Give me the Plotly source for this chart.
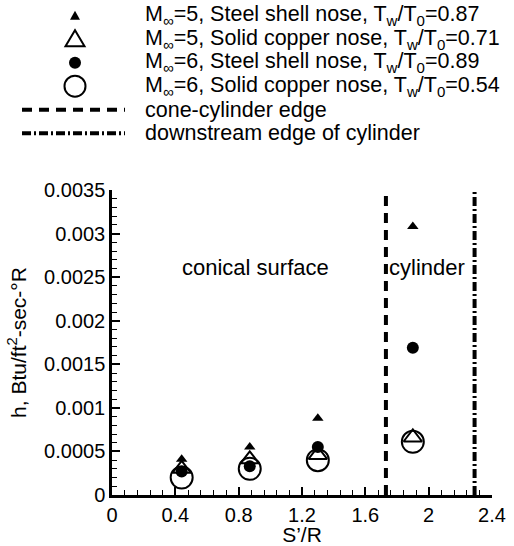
import plotly.graph_objects as go

# Surface positions S'/R of the measurement stations
s_over_r = [0.44, 0.87, 1.3, 1.9]

# Heat-transfer coefficient h, Btu/ft^2-sec-°R
h_m5_steel = [0.00041, 0.00055, 0.00088, 0.00308]
h_m5_copper = [0.00030, 0.00041, 0.00046, 0.00066]
h_m6_steel = [0.00027, 0.00033, 0.00055, 0.00169]
h_m6_copper = [0.00020, 0.00030, 0.00040, 0.00061]

# Geometry edges
cone_cylinder_edge = 1.73
cylinder_downstream_edge = 2.29
h_span = [0.0, 0.0035]

x_ticks = [0, 0.4, 0.8, 1.2, 1.6, 2.0, 2.4]
x_tick_labels = ["0", "0.4", "0.8", "1.2", "1.6", "2", "2.4"]
y_ticks = [0, 0.0005, 0.001, 0.0015, 0.002, 0.0025, 0.003, 0.0035]
y_tick_labels = ["0", "0.0005", "0.001", "0.0015", "0.002", "0.0025", "0.003", "0.0035"]

series_labels = [
    "M<sub>∞</sub>=5, Steel shell nose, T<sub>w</sub>/T<sub>0</sub>=0.87",
    "M<sub>∞</sub>=5, Solid copper nose, T<sub>w</sub>/T<sub>0</sub>=0.71",
    "M<sub>∞</sub>=6, Steel shell nose, T<sub>w</sub>/T<sub>0</sub>=0.89",
    "M<sub>∞</sub>=6, Solid copper nose, T<sub>w</sub>/T<sub>0</sub>=0.54",
    "cone-cylinder edge",
    "downstream edge of cylinder",
]

FONT = "Liberation Sans, Arial, Helvetica, sans-serif"
TICK_SIZE = 20
W, H = 514, 546
M_L, M_R, M_T, M_B = 112, 22, 190, 51
PW, PH = W - M_L - M_R, H - M_T - M_B


def px_to_paper(px, py):
    """Convert page pixel coordinates to paper coordinates of the plot area."""
    return (px - M_L) / PW, (H - M_B - py) / PH


fig = go.Figure()

DASH_EDGE = "10px,7px"
DASH_DOWNSTREAM = "9px,3px,2px,3px"

fig.add_trace(go.Scatter(
    x=s_over_r, y=h_m5_steel, mode="markers", name=series_labels[0],
    marker=dict(symbol="triangle-up", size=10, color="black"),
))
fig.add_trace(go.Scatter(
    x=s_over_r, y=h_m5_copper, mode="markers", name=series_labels[1],
    marker=dict(symbol="triangle-up-open", size=16, color="black",
                line=dict(width=2, color="black")),
))
fig.add_trace(go.Scatter(
    x=s_over_r, y=h_m6_steel, mode="markers", name=series_labels[2],
    marker=dict(symbol="circle", size=12, color="black"),
))
fig.add_trace(go.Scatter(
    x=s_over_r, y=h_m6_copper, mode="markers", name=series_labels[3],
    marker=dict(symbol="circle-open", size=22, color="black",
                line=dict(width=2, color="black")),
))
fig.add_trace(go.Scatter(
    x=[cone_cylinder_edge, cone_cylinder_edge], y=h_span, mode="lines",
    name=series_labels[4], line=dict(color="black", width=4, dash=DASH_EDGE),
))
fig.add_trace(go.Scatter(
    x=[cylinder_downstream_edge, cylinder_downstream_edge], y=h_span, mode="lines",
    name=series_labels[5], line=dict(color="black", width=4, dash=DASH_DOWNSTREAM),
))

# Key above the plot: glyph column, sample lines and labels
row_y = [15.7, 39.2, 62.7, 86.2, 109.7, 133.2]
glyph_x = 75
line_x0, line_x1 = 22, 125
text_x = 143

key_glyphs = [
    dict(kind="path", path="M -5,-4 L 5,-4 L 0,5 Z", fill="black", lw=0),
    dict(kind="path", path="M -9.5,-7 L 9.5,-7 L 0,9 Z", fill="rgba(0,0,0,0)", lw=2),
    dict(kind="circle", r=6, fill="black", lw=0),
    dict(kind="circle", r=10.5, fill="rgba(0,0,0,0)", lw=2),
]
for g, ry in zip(key_glyphs, row_y[:4]):
    ax, ay = px_to_paper(glyph_x, ry)
    common = dict(xref="paper", yref="paper", xsizemode="pixel", ysizemode="pixel",
                  xanchor=ax, yanchor=ay, fillcolor=g["fill"],
                  line=dict(color="black", width=g["lw"]))
    if g["kind"] == "path":
        fig.add_shape(type="path", path=g["path"], **common)
    else:
        fig.add_shape(type="circle", x0=-g["r"], x1=g["r"], y0=-g["r"], y1=g["r"], **common)

for dash, ry in zip([DASH_EDGE, DASH_DOWNSTREAM], row_y[4:]):
    x0, yy = px_to_paper(line_x0, ry)
    x1, _ = px_to_paper(line_x1, ry)
    fig.add_shape(type="line", xref="paper", yref="paper", x0=x0, x1=x1, y0=yy, y1=yy,
                  line=dict(color="black", width=4, dash=dash))

for label, ry in zip(series_labels, row_y):
    tx, ty = px_to_paper(text_x, ry)
    fig.add_annotation(xref="paper", yref="paper", x=tx, y=ty, text=label,
                       xanchor="left", yanchor="middle", showarrow=False,
                       font=dict(size=21.5, color="black", family=FONT))

# Region labels
fig.add_annotation(x=0.904, y=0.00261, text="conical surface", showarrow=False,
                   font=dict(size=22, color="black", family=FONT))
fig.add_annotation(x=1.99, y=0.00261, text="cylinder", showarrow=False,
                   font=dict(size=22, color="black", family=FONT))

axis_common = dict(
    showgrid=False, zeroline=False, showline=True, linecolor="black", linewidth=2.5,
    ticks="inside", ticklen=8, tickwidth=2, tickcolor="black",
    mirror=False,
)

fig.update_xaxes(
    range=[0, 2.4], tickmode="array", tickvals=x_ticks, ticktext=x_tick_labels,
    title=dict(text="S’/R", font=dict(size=21, color="black", family=FONT), standoff=0),
    minor=dict(dtick=0.08, tick0=0, ticks="inside", ticklen=5, tickwidth=1, tickcolor="black"),
    **axis_common,
)
fig.update_yaxes(
    range=[0, 0.0035], tickmode="array", tickvals=y_ticks, ticktext=y_tick_labels,
    title=dict(text="h, Btu/ft<sup>2</sup>-sec-°R", font=dict(size=21, color="black", family=FONT), standoff=12),
    minor=dict(dtick=0.0001, tick0=0, ticks="inside", ticklen=5, tickwidth=1, tickcolor="black"),
    **axis_common,
)
fig.update_xaxes(tickfont_size=TICK_SIZE, tickfont_family=FONT, tickfont_color="black")
fig.update_yaxes(tickfont_size=TICK_SIZE, tickfont_family=FONT, tickfont_color="black")

fig.update_layout(
    width=W, height=H,
    margin=dict(l=M_L, r=M_R, t=M_T, b=M_B, autoexpand=False),
    paper_bgcolor="white", plot_bgcolor="white",
    font=dict(family=FONT, color="black", size=18),
    showlegend=False,
)

fig.write_html("out.html")
